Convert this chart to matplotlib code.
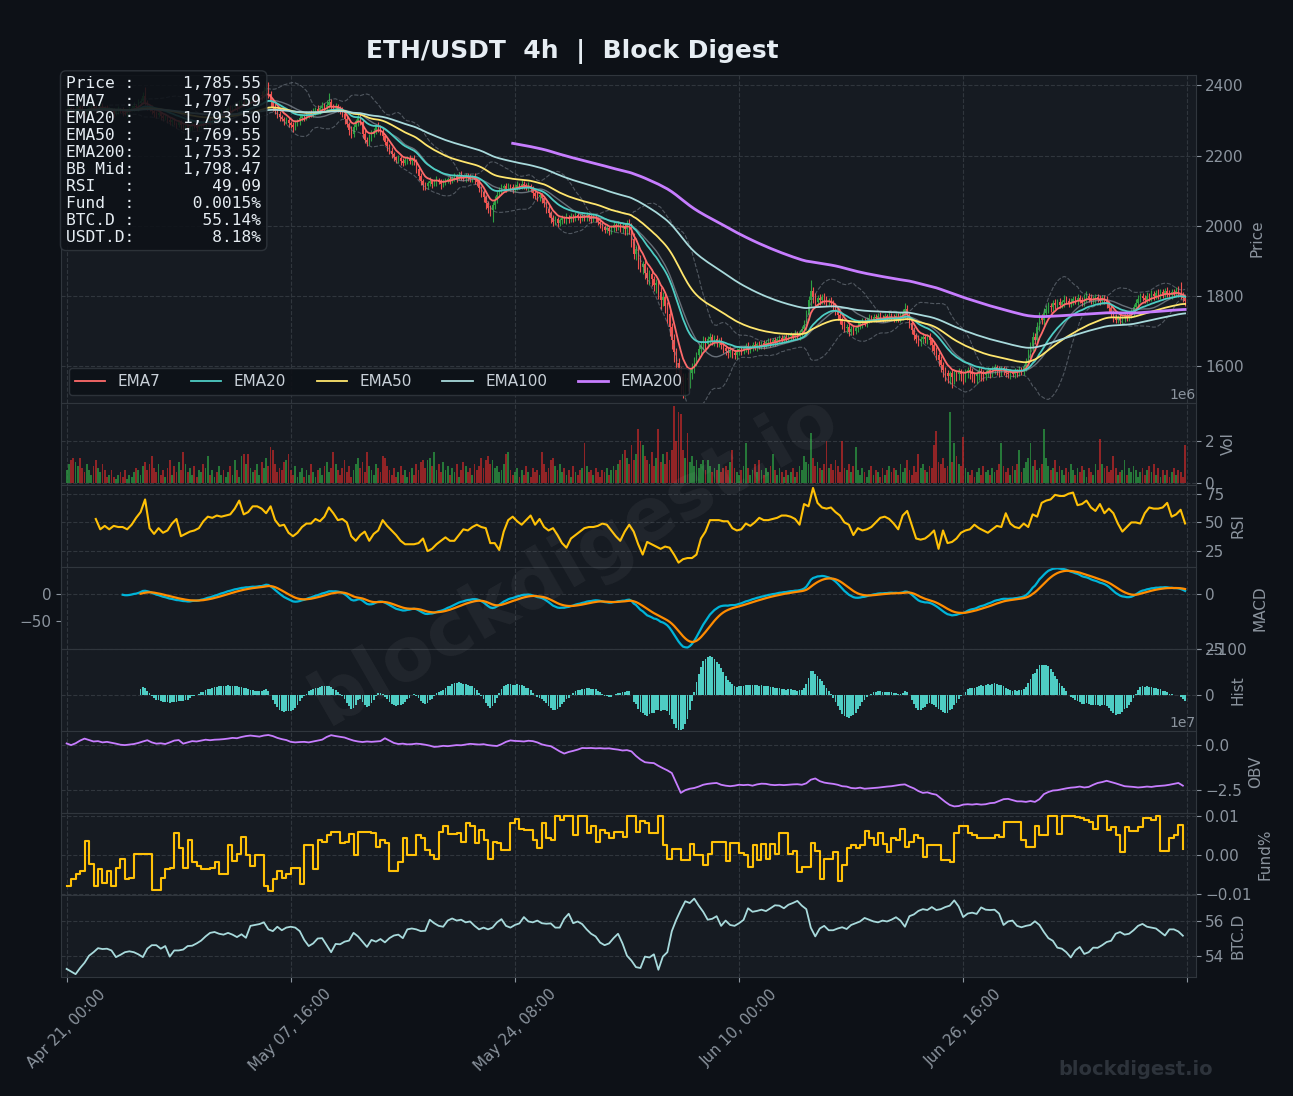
import numpy as np
import pandas as pd
import matplotlib
matplotlib.use("Agg")
import matplotlib.pyplot as plt

# ---- data: ETH/USDT 4h candles, Apr 21 -> Jul 13 ----
first_open = 2322
close = [
    2328, 2335, 2331, 2324, 2330, 2338, 2333, 2326, 2322, 2329,
    2334, 2341, 2337, 2330, 2335, 2343, 2339, 2333, 2328, 2332,
    2327, 2321, 2326, 2333, 2329, 2322, 2318, 2325, 2331, 2336,
    2342, 2338, 2349, 2356, 2368, 2352, 2340, 2334, 2326, 2320,
    2315, 2321, 2312, 2306, 2310, 2302, 2296, 2301, 2292, 2288,
    2294, 2286, 2280, 2285, 2277, 2282, 2290, 2284, 2279, 2287,
    2293, 2289, 2297, 2302, 2296, 2305, 2311, 2307, 2316, 2322,
    2318, 2327, 2334, 2329, 2337, 2343, 2339, 2346, 2351, 2347,
    2355, 2350, 2358, 2362, 2356, 2365, 2372, 2368, 2384, 2392,
    2375, 2352, 2338, 2326, 2318, 2310, 2305, 2298, 2302, 2293,
    2288, 2281, 2292, 2299, 2306, 2312, 2308, 2317, 2322, 2318,
    2326, 2331, 2327, 2335, 2342, 2337, 2345, 2352, 2340, 2336,
    2341, 2333, 2328, 2318, 2304, 2290, 2272, 2262, 2281, 2298,
    2310, 2296, 2262, 2245, 2238, 2252, 2261, 2270, 2284, 2279,
    2268, 2255, 2238, 2226, 2214, 2203, 2196, 2188, 2192, 2184,
    2179, 2186, 2192, 2185, 2190, 2183, 2162, 2141, 2128, 2116,
    2112, 2121, 2127, 2119, 2124, 2131, 2126, 2118, 2123, 2129,
    2134, 2128, 2136, 2141, 2137, 2144, 2139, 2135, 2142, 2138,
    2133, 2139, 2130, 2124, 2108, 2095, 2082, 2064, 2051, 2046,
    2058, 2074, 2089, 2101, 2108, 2112, 2106, 2114, 2109, 2104,
    2111, 2117, 2113, 2120, 2116, 2109, 2113, 2104, 2092, 2086,
    2081, 2087, 2078, 2064, 2049, 2036, 2021, 2012, 2018, 2009,
    2016, 2022, 2015, 2024, 2019, 2027, 2023, 2030, 2026, 2021,
    2028, 2024, 2031, 2025, 2019, 2026, 2021, 2012, 2004, 1996,
    1989, 1994, 1986, 1993, 2001, 1996, 2003, 1994, 1999, 1991,
    2004, 1997, 1962, 1921, 1934, 1902, 1884, 1891, 1866, 1851,
    1862, 1848, 1831, 1838, 1812, 1789, 1796, 1772, 1748, 1712,
    1676, 1642, 1610, 1589, 1571, 1556, 1568, 1561, 1582, 1596,
    1615, 1632, 1648, 1659, 1671, 1664, 1677, 1684, 1672, 1679,
    1668, 1673, 1661, 1652, 1645, 1637, 1646, 1639, 1632, 1641,
    1648, 1643, 1652, 1657, 1649, 1655, 1661, 1656, 1663, 1659,
    1666, 1661, 1668, 1672, 1667, 1674, 1669, 1677, 1681, 1675,
    1683, 1678, 1686, 1690, 1684, 1693, 1688, 1697, 1705, 1718,
    1745, 1788, 1815, 1796, 1784, 1795, 1788, 1798, 1791, 1785,
    1786, 1781, 1770, 1758, 1745, 1731, 1719, 1708, 1712, 1699,
    1706, 1701, 1709, 1716, 1722, 1729, 1724, 1733, 1739, 1735,
    1741, 1737, 1744, 1739, 1735, 1742, 1738, 1745, 1741, 1736,
    1743, 1736, 1744, 1751, 1764, 1745, 1724, 1703, 1688, 1679,
    1671, 1678, 1684, 1679, 1686, 1674, 1660, 1645, 1632, 1618,
    1603, 1590, 1581, 1573, 1580, 1569, 1582, 1577, 1586, 1579,
    1574, 1583, 1591, 1585, 1578, 1572, 1580, 1588, 1582, 1576,
    1584, 1590, 1585, 1592, 1598, 1591, 1587, 1594, 1589, 1581,
    1577, 1584, 1579, 1586, 1583, 1590, 1588, 1597, 1612, 1634,
    1658, 1684, 1676, 1712, 1738, 1731, 1752, 1764, 1772, 1768,
    1779, 1774, 1783, 1776, 1782, 1790, 1786, 1779, 1784, 1792,
    1787, 1795, 1788, 1781, 1793, 1801, 1794, 1786, 1791, 1797,
    1792, 1786, 1795, 1788, 1779, 1766, 1752, 1741, 1733, 1739,
    1731, 1737, 1744, 1738, 1746, 1754, 1769, 1781, 1792, 1799,
    1794, 1789, 1801, 1796, 1805, 1799, 1808, 1802, 1811, 1806,
    1814, 1808, 1803, 1811, 1806, 1815, 1809, 1801, 1794, 1785.55,
]
# volume, units of 100k
volume = [
    6, 9, 11, 12, 10, 8, 12, 7, 5, 9,
    6, 4, 8, 11, 7, 5, 9, 6, 3, 4,
    6, 3, 2, 4, 5, 3, 6, 2, 4, 3,
    5, 7, 6, 4, 8, 10, 6, 9, 13, 7,
    5, 9, 4, 6, 3, 7, 11, 4, 8, 5,
    10, 6, 15, 9, 5, 7, 4, 8, 3, 6,
    5, 9, 7, 13, 4, 6, 3, 5, 8, 4,
    6, 3, 5, 8, 4, 11, 6, 3, 13, 14,
    9, 14, 7, 5, 6, 9, 4, 10, 7, 12,
    8, 17, 16, 9, 5, 7, 6, 10, 11, 14,
    6, 4, 8, 3, 5, 7, 3, 6, 4, 9,
    5, 3, 6, 7, 4, 8, 10, 5, 7, 15,
    9, 6, 4, 7, 11, 5, 8, 3, 6, 9,
    12, 7, 10, 5, 15, 8, 6, 4, 9, 7,
    5, 13, 12, 8, 6, 4, 7, 3, 5, 8,
    4, 6, 3, 5, 7, 4, 9, 6, 10, 11,
    7, 11, 12, 8, 15, 6, 9, 5, 10, 6,
    8, 4, 7, 5, 9, 3, 6, 10, 8, 5,
    7, 4, 9, 6, 8, 12, 7, 11, 13, 9,
    11, 7, 8, 5, 6, 9, 14, 15, 6, 4,
    5, 7, 3, 6, 4, 8, 5, 3, 7, 5,
    6, 4, 15, 9, 5, 7, 11, 12, 8, 6,
    9, 5, 7, 4, 6, 3, 8, 5, 4, 6,
    7, 19, 8, 5, 6, 4, 7, 5, 3, 6,
    5, 7, 4, 6, 8, 6, 9, 11, 14, 16,
    12, 9, 18, 11, 14, 26, 20, 18, 13, 11,
    9, 15, 8, 12, 26, 10, 14, 9, 15, 11,
    16, 37, 20, 34, 33, 16, 12, 24, 10, 13,
    8, 11, 7, 9, 11, 6, 11, 8, 5, 7,
    6, 9, 5, 7, 8, 6, 10, 16, 7, 5,
    4, 6, 8, 19, 7, 4, 6, 9, 5, 11,
    6, 4, 7, 5, 8, 14, 6, 4, 7, 5,
    3, 6, 4, 5, 7, 3, 5, 8, 6, 13,
    10, 9, 24, 12, 8, 10, 7, 6, 9, 20,
    7, 9, 6, 11, 8, 5, 20, 7, 6, 9,
    5, 8, 17, 6, 4, 7, 5, 3, 6, 8,
    4, 6, 5, 3, 7, 4, 6, 8, 5, 7,
    6, 4, 9, 5, 7, 11, 6, 4, 8, 5,
    14, 7, 9, 6, 5, 8, 7, 18, 25, 10,
    9, 12, 7, 8, 34, 10, 19, 13, 9, 8,
    22, 7, 5, 4, 6, 3, 5, 7, 4, 8,
    5, 6, 4, 7, 5, 6, 9, 19, 8, 5,
    7, 4, 8, 6, 9, 16, 5, 7, 10, 12,
    19, 8, 11, 6, 7, 9, 26, 12, 8, 6,
    7, 11, 5, 8, 6, 4, 7, 5, 9, 6,
    4, 7, 5, 8, 6, 3, 7, 5, 4, 9,
    6, 21, 9, 7, 8, 5, 6, 13, 7, 4,
    5, 6, 11, 4, 7, 5, 8, 6, 3, 5,
    7, 4, 6, 8, 5, 9, 4, 7, 3, 6,
    4, 6, 3, 5, 7, 4, 6, 5, 3, 18,
]
wick_up = [
    6, 9, 4, 8, 12, 5, 7, 10, 3, 6, 8, 5, 11, 6, 4, 9, 7, 3, 10, 5,
    4, 7, 6, 9, 3, 8, 5, 6, 11, 7, 9, 5, 12, 8, 14, 27, 6, 4, 9, 5,
    7, 10, 4, 6, 8, 3, 9, 5, 7, 4, 6, 8, 5, 11, 4, 7, 9, 3, 6, 10,
    5, 7, 9, 4, 8, 6, 11, 5, 7, 9, 4, 8, 6, 10, 5, 9, 7, 12, 6, 8,
    10, 5, 9, 7, 11, 6, 8, 13, 14, 22, 18, 9, 7, 11, 5, 8, 6, 4, 9, 7,
    5, 8, 10, 6, 9, 4, 7, 11, 5, 8, 9, 6, 12, 7, 10, 8, 14, 26, 9, 6,
    8, 5, 7, 11, 6, 9, 4, 12, 10, 7, 12, 8, 6, 10, 7, 9, 11, 8, 6, 10,
    7, 9, 5, 8, 6, 10, 7, 4, 9, 6, 8, 10, 6, 9, 5, 12, 7, 6, 8, 5,
    9, 7, 11, 6, 8, 10, 5, 7, 9, 8, 6, 9, 7, 10, 5, 8, 11, 6, 9, 7,
    8, 6, 10, 7, 9, 5, 8, 6, 7, 9, 10, 12, 9, 8, 11, 7, 10, 8, 6, 9,
    7, 10, 6, 9, 8, 7, 11, 5, 8, 6, 9, 7, 5, 8, 6, 10, 7, 9, 11, 8,
    6, 9, 7, 12, 8, 10, 6, 9, 7, 8, 10, 7, 9, 6, 8, 11, 7, 5, 8, 6,
    7, 9, 6, 10, 12, 8, 11, 7, 9, 10, 12, 15, 10, 18, 11, 9, 14, 10, 12, 16,
    11, 14, 9, 12, 10, 13, 15, 9, 11, 14, 12, 15, 10, 13, 9, 11, 14, 16, 10, 13,
    11, 9, 13, 10, 14, 12, 9, 11, 8, 10, 9, 7, 10, 8, 6, 9, 11, 7, 8, 10,
    8, 10, 7, 9, 11, 6, 8, 10, 7, 9, 7, 9, 6, 8, 10, 7, 9, 6, 8, 7,
    6, 8, 7, 9, 6, 10, 8, 7, 11, 14, 16, 12, 31, 10, 13, 9, 11, 8, 12, 10,
    9, 11, 8, 10, 7, 12, 9, 11, 8, 10, 8, 10, 7, 9, 11, 8, 10, 7, 9, 8,
    7, 9, 8, 10, 6, 9, 8, 11, 7, 9, 8, 10, 9, 12, 16, 10, 8, 11, 9, 7,
    10, 8, 11, 9, 7, 10, 8, 12, 9, 10, 11, 9, 8, 10, 7, 12, 9, 8, 10, 7,
    8, 10, 7, 9, 11, 6, 8, 10, 7, 9, 7, 9, 6, 10, 8, 7, 9, 6, 8, 10,
    6, 8, 7, 9, 6, 10, 8, 11, 12, 14, 12, 15, 10, 13, 16, 11, 14, 10, 12, 9,
    10, 12, 9, 11, 8, 13, 10, 9, 11, 8, 9, 11, 8, 10, 12, 14, 9, 11, 8, 10,
    8, 10, 7, 9, 11, 8, 10, 7, 9, 8, 9, 7, 10, 8, 11, 9, 8, 10, 12, 9,
    10, 8, 11, 9, 12, 10, 9, 11, 8, 10, 9, 11, 8, 10, 9, 12, 14, 31, 12, 8,
]
wick_dn = [
    5, 8, 10, 4, 7, 6, 9, 5, 11, 6, 7, 4, 9, 6, 10, 5, 8, 6, 4, 9,
    6, 10, 5, 8, 7, 9, 4, 11, 6, 5, 8, 6, 10, 5, 9, 7, 11, 6, 8, 10,
    9, 5, 11, 7, 6, 10, 8, 12, 6, 9, 7, 10, 8, 5, 11, 6, 9, 7, 10, 5,
    8, 6, 10, 7, 9, 5, 8, 10, 6, 7, 9, 7, 5, 10, 6, 8, 11, 7, 9, 6,
    7, 10, 6, 9, 8, 11, 7, 9, 8, 10, 12, 14, 11, 9, 10, 12, 8, 11, 9, 13,
    10, 15, 9, 7, 11, 8, 10, 6, 9, 7, 8, 10, 7, 9, 6, 11, 8, 10, 12, 9,
    7, 9, 11, 8, 13, 10, 15, 12, 9, 8, 14, 10, 12, 9, 11, 8, 10, 7, 9, 11,
    10, 12, 9, 13, 11, 10, 12, 9, 8, 11, 9, 7, 10, 8, 11, 9, 13, 12, 11, 14,
    10, 8, 9, 11, 7, 10, 8, 12, 9, 7, 8, 10, 7, 9, 11, 8, 10, 7, 9, 10,
    9, 8, 11, 10, 12, 14, 13, 15, 14, 18, 35, 10, 9, 8, 11, 7, 10, 8, 9, 11,
    8, 10, 7, 9, 11, 8, 10, 9, 12, 10, 11, 9, 12, 10, 13, 11, 14, 12, 10, 13,
    9, 11, 8, 10, 12, 9, 11, 8, 10, 12, 8, 10, 9, 11, 12, 8, 10, 11, 9, 12,
    10, 9, 12, 8, 11, 10, 9, 12, 14, 16, 18, 20, 22, 15, 19, 24, 16, 21, 18, 17,
    20, 18, 16, 22, 19, 25, 18, 21, 24, 26, 28, 30, 34, 40, 51, 45, 40, 30, 22, 18,
    16, 14, 12, 15, 13, 16, 12, 14, 11, 13, 12, 14, 11, 15, 13, 12, 10, 14, 12, 11,
    10, 12, 9, 11, 13, 10, 12, 9, 11, 10, 9, 11, 8, 10, 12, 9, 11, 8, 10, 9,
    8, 10, 9, 11, 8, 10, 9, 12, 10, 11, 14, 12, 15, 16, 13, 12, 14, 11, 13, 12,
    11, 13, 10, 12, 14, 11, 13, 10, 12, 14, 10, 12, 9, 11, 10, 12, 9, 11, 10, 9,
    9, 10, 8, 11, 9, 10, 8, 10, 9, 11, 10, 9, 11, 12, 14, 13, 15, 12, 14, 13,
    12, 14, 11, 13, 15, 14, 16, 13, 15, 17, 18, 20, 22, 19, 24, 30, 18, 20, 17, 22,
    25, 19, 17, 20, 22, 18, 21, 19, 23, 18, 16, 14, 17, 15, 13, 16, 18, 14, 15, 12,
    11, 13, 10, 12, 14, 11, 13, 12, 10, 11, 12, 14, 11, 13, 12, 10, 14, 11, 13, 12,
    10, 12, 9, 11, 10, 12, 9, 11, 10, 8, 9, 11, 8, 10, 9, 11, 10, 8, 9, 11,
    10, 12, 9, 11, 13, 10, 12, 14, 11, 10, 12, 10, 11, 9, 10, 8, 11, 9, 10, 8,
    9, 10, 8, 11, 9, 10, 8, 9, 10, 11, 9, 10, 8, 11, 9, 10, 12, 10, 11, 14,
]
# RSI(14), every second candle starting at candle 13
rsi = [
    53, 44, 47, 44, 47, 46, 46, 44, 48, 54,
    59, 70, 45, 40, 45, 41, 43, 49, 53, 38,
    40, 42, 43, 45, 51, 55, 54, 56, 55, 56,
    57, 62, 69, 57, 59, 64, 64, 62, 58, 64,
    52, 47, 48, 41, 38, 41, 46, 49, 49, 53,
    51, 55, 63, 58, 52, 53, 50, 38, 34, 39,
    42, 34, 40, 43, 52, 47, 43, 39, 34, 31,
    31, 31, 32, 36, 25, 27, 31, 34, 37, 34,
    34, 39, 44, 43, 46, 48, 46, 45, 32, 32,
    26, 42, 52, 55, 51, 48, 52, 56, 48, 53,
    46, 43, 45, 39, 32, 28, 36, 39, 42, 45,
    46, 46, 47, 49, 48, 43, 38, 34, 42, 48,
    42, 31, 22, 33, 31, 29, 27, 29, 28, 22,
    15, 18, 19, 19, 22, 36, 42, 52, 52, 52,
    51, 51, 45, 43, 44, 49, 47, 50, 54, 52,
    52, 53, 54, 56, 56, 55, 53, 48, 66, 64,
    80, 67, 63, 62, 63, 59, 56, 50, 48, 39,
    45, 43, 44, 46, 50, 54, 55, 53, 49, 44,
    56, 60, 48, 36, 35, 36, 39, 43, 27, 43,
    32, 33, 36, 41, 43, 44, 48, 45, 43, 41,
    44, 47, 46, 58, 49, 46, 45, 49, 46, 57,
    55, 67, 69, 70, 74, 73, 73, 75, 76, 65,
    66, 69, 63, 60, 66, 58, 62, 58, 49, 42,
    46, 50, 50, 49, 58, 63, 62, 62, 63, 67,
    55, 57, 61, 49.09,
]
# OBV in 1e7, every second candle
obv = [
    0.09, 0.0, 0.1, 0.25, 0.36, 0.28, 0.2, 0.22, 0.15, 0.18,
    0.13, 0.08, 0.02, 0.0, 0.03, 0.06, 0.12, 0.2, 0.27, 0.15,
    0.08, 0.1, 0.06, 0.15, 0.25, 0.28, 0.08, 0.15, 0.22, 0.2,
    0.25, 0.3, 0.27, 0.3, 0.31, 0.33, 0.36, 0.4, 0.38, 0.45,
    0.5, 0.53, 0.5, 0.47, 0.53, 0.56, 0.5, 0.4, 0.33, 0.28,
    0.18, 0.15, 0.17, 0.18, 0.15, 0.2, 0.25, 0.3, 0.45, 0.55,
    0.5, 0.46, 0.42, 0.33, 0.25, 0.2, 0.17, 0.2, 0.18, 0.2,
    0.22, 0.38, 0.25, 0.12, 0.06, 0.08, 0.04, 0.05, 0.08, 0.06,
    0.02, -0.03, -0.1, -0.08, -0.04, -0.06, -0.03, 0.0, -0.01, 0.03,
    0.07, 0.05, 0.03, 0.05, 0.0, -0.03, -0.05, 0.05, 0.18, 0.26,
    0.23, 0.22, 0.2, 0.24, 0.22, 0.15, 0.04, -0.02, -0.06, -0.2,
    -0.35, -0.47, -0.38, -0.32, -0.25, -0.16, -0.17, -0.16, -0.18, -0.17,
    -0.19, -0.18, -0.22, -0.25, -0.3, -0.28, -0.35, -0.6, -0.8, -0.95,
    -0.98, -1.0, -1.15, -1.28, -1.4, -1.55, -2.1, -2.65, -2.5, -2.42,
    -2.38, -2.3, -2.2, -2.15, -2.12, -2.1, -2.2, -2.25, -2.28, -2.25,
    -2.2, -2.22, -2.2, -2.25, -2.18, -2.14, -2.15, -2.2, -2.22, -2.2,
    -2.22, -2.2, -2.18, -2.17, -2.2, -2.12, -1.92, -1.85, -2.0, -2.08,
    -2.12, -2.15, -2.2, -2.28, -2.3, -2.38, -2.4, -2.36, -2.42, -2.4,
    -2.38, -2.36, -2.33, -2.3, -2.28, -2.24, -2.2, -2.18, -2.3, -2.4,
    -2.55, -2.65, -2.62, -2.7, -2.75, -2.95, -3.15, -3.32, -3.4, -3.38,
    -3.3, -3.28, -3.3, -3.27, -3.3, -3.28, -3.22, -3.2, -3.1, -3.0,
    -2.98, -3.05, -3.12, -3.12, -3.15, -3.1, -3.15, -3.0, -2.72, -2.6,
    -2.52, -2.5, -2.45, -2.4, -2.36, -2.34, -2.3, -2.35, -2.32, -2.2,
    -2.1, -2.05, -1.98, -2.05, -2.12, -2.2, -2.28, -2.3, -2.32, -2.35,
    -2.33, -2.3, -2.32, -2.28, -2.26, -2.24, -2.2, -2.15, -2.1, -2.25,
]
# funding rate %, one value per 8h (every second candle)
fund = [
    -0.008, -0.0062, -0.0049, -0.004, 0.0037, -0.0023, -0.008, -0.0036, -0.0071, -0.004,
    -0.008, -0.0032, -0.001, -0.0062, -0.0058, 0.0004, 0.0004, 0.0004, 0.0004, -0.0089,
    -0.0089, -0.0058, -0.0036, -0.0032, 0.0056, 0.0017, -0.0032, 0.0039, -0.0018, -0.0027,
    -0.0036, -0.0036, -0.0032, -0.0018, -0.0049, -0.0049, 0.0025, -0.0014, 0.0004, 0.0047,
    -0.0001, -0.0027, 0.0, 0.0, -0.008, -0.0093, -0.0062, -0.004, -0.0058, -0.0049,
    -0.0032, -0.0032, -0.0075, 0.0025, 0.0025, -0.0036, 0.0039, 0.0034, 0.0052, 0.006,
    0.006, 0.003, 0.0034, 0.0054, 0.0, 0.006, 0.006, 0.006, 0.0056, 0.0021,
    0.0039, 0.003, -0.004, -0.004, -0.0018, 0.0043, 0.0, 0.0, 0.0052, 0.0043,
    0.0012, 0.0, -0.001, 0.006, 0.0075, 0.0054, 0.0054, 0.0056, 0.0034, 0.0082,
    0.0074, 0.003, 0.0065, 0.0039, -0.001, 0.0034, 0.003, 0.0012, 0.0012, 0.0082,
    0.0093, 0.0067, 0.0065, 0.0065, 0.0039, 0.0017, 0.0082, 0.0043, 0.0039, 0.01,
    0.0091, 0.01, 0.01, 0.0052, 0.01, 0.01, 0.0056, 0.0074, 0.0034, 0.0065,
    0.0056, 0.0043, 0.006, 0.006, 0.0047, 0.01, 0.01, 0.006, 0.0087, 0.0082,
    0.0056, 0.0056, 0.01, 0.0026, -0.0009, 0.0015, 0.0015, -0.0013, -0.0013, 0.0028,
    0.0, 0.0, -0.0026, 0.0004, 0.0034, 0.0034, 0.0034, -0.0015, 0.0032, 0.0032,
    0.0006, 0.0, -0.003, 0.0026, -0.0013, 0.0028, -0.0009, 0.0028, 0.0004, 0.0056,
    0.0056, 0.0004, 0.0011, -0.0043, -0.003, -0.003, 0.003, 0.0011, -0.006, -0.0009,
    -0.0009, 0.0009, -0.0066, -0.0026, 0.0017, 0.0026, 0.0017, 0.0026, 0.0062, 0.0043,
    0.0026, 0.0057, 0.0028, 0.0009, 0.0043, 0.0038, 0.0068, 0.0021, 0.0034, 0.0051,
    0.0043, -0.0004, 0.0026, 0.0026, 0.0026, -0.0013, -0.0013, -0.0017, 0.0056, 0.0074,
    0.0074, 0.0056, 0.0051, 0.0043, 0.0043, 0.0043, 0.0045, 0.0051, 0.0047, 0.0085,
    0.0085, 0.0085, 0.0085, 0.0038, 0.0021, 0.0021, 0.0074, 0.0051, 0.0051, 0.01,
    0.01, 0.0054, 0.01, 0.01, 0.01, 0.0097, 0.0094, 0.009, 0.0085, 0.0068,
    0.01, 0.01, 0.0064, 0.0073, 0.0051, 0.0009, 0.0073, 0.0062, 0.0062, 0.0073,
    0.0094, 0.0094, 0.009, 0.01, 0.0011, 0.0011, 0.0043, 0.0051, 0.0077, 0.0015,
]
# BTC dominance %, every second candle
btc_d = [
    53.25, 53.1, 52.95, 53.3, 53.6, 54.0, 54.2, 54.43, 54.38, 54.4,
    54.3, 53.92, 54.05, 54.2, 54.25, 54.2, 54.08, 53.92, 54.4, 54.6,
    54.6, 54.4, 54.55, 53.95, 54.3, 54.3, 54.35, 54.55, 54.57, 54.7,
    54.86, 55.1, 55.3, 55.35, 55.25, 55.2, 55.3, 55.2, 55.06, 55.22,
    55.02, 55.7, 55.75, 55.8, 55.9, 55.5, 55.4, 55.65, 55.45, 55.6,
    55.65, 55.6, 55.4, 54.9, 54.55, 54.7, 54.98, 55.0, 54.6, 54.2,
    54.67, 54.65, 54.8, 54.86, 55.3, 55.1, 54.8, 54.5, 54.9, 54.8,
    54.95, 54.76, 55.0, 55.15, 55.2, 55.0, 55.5, 55.55, 55.5, 55.4,
    55.42, 56.05, 55.85, 55.7, 55.65, 56.0, 56.12, 56.0, 56.05, 55.9,
    55.95, 55.7, 55.5, 55.6, 55.5, 55.6, 55.9, 56.08, 55.7, 55.6,
    55.75, 55.84, 56.2, 55.95, 55.9, 56.0, 55.85, 55.82, 55.84, 55.6,
    55.6, 56.1, 56.39, 55.85, 55.95, 55.8, 55.5, 55.25, 55.1, 54.75,
    54.6, 54.7, 55.0, 55.25, 54.7, 54.0, 53.72, 53.35, 53.3, 53.95,
    53.9, 54.08, 53.2, 53.95, 54.2, 55.4, 56.05, 56.6, 57.1, 57.0,
    57.25, 56.85, 56.5, 56.05, 56.1, 56.25, 55.7, 56.0, 55.75, 55.7,
    55.85, 56.04, 56.7, 56.5, 56.55, 56.62, 56.54, 56.7, 56.87, 56.85,
    56.7, 56.9, 57.0, 57.12, 56.85, 56.65, 55.6, 55.1, 55.55, 55.7,
    55.45, 55.45, 55.55, 55.62, 55.52, 55.75, 55.85, 55.95, 56.15, 56.05,
    55.95, 55.9, 56.0, 55.95, 56.05, 56.19, 56.0, 55.65, 56.25, 56.35,
    56.55, 56.65, 56.6, 56.77, 56.6, 56.65, 56.77, 56.85, 57.15, 56.8,
    56.2, 56.4, 56.45, 56.38, 56.75, 56.62, 56.6, 56.62, 56.4, 55.75,
    55.95, 56.0, 55.7, 55.62, 55.7, 55.75, 55.96, 55.75, 55.35, 55.0,
    54.85, 54.46, 54.4, 54.2, 53.9, 54.3, 54.5, 54.1, 54.2, 54.46,
    54.45, 54.6, 54.78, 54.85, 55.25, 55.35, 55.2, 55.25, 55.45, 55.7,
    55.81, 55.65, 55.6, 55.55, 55.35, 55.15, 55.5, 55.5, 55.38, 55.14,
]

tick_labels = ["Apr 21, 00:00", "May 07, 16:00", "May 24, 08:00",
               "Jun 10, 00:00", "Jun 26, 16:00", ""]
info_names = ["Price", "EMA7", "EMA20", "EMA50", "EMA200", "BB Mid",
              "RSI", "Fund", "BTC.D", "USDT.D"]
info_values = ["1,785.55", "1,797.59", "1,793.50", "1,769.55", "1,753.52",
               "1,798.47", "49.09", "0.0015%", "55.14%", "8.18%"]

# ---- colours ----
BG = "#0d1117"
PANEL = "#161b22"
EDGE = "#30363d"
TXT = "#8b949e"
UP = "#2ea043"
DOWN = "#f0524f"
ema_colors = {7: "#ff6b6b", 20: "#4ecdc4", 50: "#ffe66d", 100: "#a8dadc", 200: "#c77dff"}

# ---- indicators ----
c = pd.Series(close, dtype=float)
o = c.shift(1).fillna(first_open)
hi = np.maximum(o, c) + np.array(wick_up)
lo = np.minimum(o, c) - np.array(wick_dn)
x = np.arange(len(c))
up = (c >= o).values

emas = {n: c.ewm(span=n, adjust=False).mean() for n in (7, 20, 50, 100)}
emas[200] = c.ewm(span=200, adjust=False, min_periods=200).mean()
bb_mid = c.rolling(20).mean()
bb_sd = c.rolling(20).std()
macd = c.ewm(span=12, adjust=False).mean() - c.ewm(span=26, adjust=False, min_periods=26).mean()
signal = macd.ewm(span=9, adjust=False, min_periods=9).mean()
hist = macd - signal

vol = np.array(volume) * 1e5
x2 = np.arange(0, len(c), 2)
x_rsi = np.arange(13, len(c), 2)

# ---- figure ----
fig = plt.figure(figsize=(12.93, 10.96), dpi=100, facecolor=BG)
gs = fig.add_gridspec(8, 1, height_ratios=[4, 1, 1, 1, 1, 1, 1, 1], hspace=0,
                      left=0.0472, right=0.9247, top=0.932, bottom=0.1086)
axes = []
for i in range(8):
    ax = fig.add_subplot(gs[i], sharex=axes[0] if axes else None)
    ax.set_facecolor(PANEL)
    ax.grid(True, color=EDGE, linestyle="--", linewidth=0.8)
    ax.set_axisbelow(True)
    ax.yaxis.tick_right()
    ax.yaxis.set_label_position("right")
    ax.tick_params(colors=TXT, labelsize=11)
    for s in ax.spines.values():
        s.set_color(EDGE)
    if i < 7:
        ax.tick_params(axis="x", length=0, labelbottom=False)
    axes.append(ax)
ax_p, ax_v, ax_r, ax_m, ax_h, ax_o, ax_f, ax_b = axes

# price
cols = np.where(up, UP, DOWN)
ax_p.vlines(x, lo, hi, colors=cols, linewidth=0.8, zorder=2)
ax_p.bar(x, np.maximum(np.abs(c - o), 0.8), bottom=np.minimum(o, c), width=0.6,
         color=cols, zorder=2)
ax_p.plot(x, bb_mid + 2 * bb_sd, color=TXT, lw=0.8, ls="--", alpha=0.5, zorder=3)
ax_p.plot(x, bb_mid - 2 * bb_sd, color=TXT, lw=0.8, ls="--", alpha=0.5, zorder=3)
ax_p.plot(x, bb_mid, color=TXT, lw=1.0, alpha=0.7, zorder=3)
for n in (7, 20, 50, 100, 200):
    ax_p.plot(x, emas[n], color=ema_colors[n], lw=2.0 if n == 200 else 1.3,
              label=f"EMA{n}", zorder=4)
ax_p.set_ylim(1496.6, 2430.5)
ax_p.set_ylabel("Price", color=TXT, fontsize=11)
leg = ax_p.legend(loc="lower left", ncol=5, fontsize=11, facecolor=BG,
                  edgecolor=EDGE, framealpha=0.9, labelcolor="#c9d1d9")
info = "\n".join(f"{n:<6}:{v:>13}" for n, v in zip(info_names, info_values))
ax_p.text(0.0045, 0.994, info, transform=ax_p.transAxes, va="top", ha="left",
          family="DejaVu Sans Mono", fontsize=11.7, linespacing=1.17,
          color="#e6edf3", zorder=10,
          bbox=dict(boxstyle="round,pad=0.35", facecolor=BG, edgecolor=EDGE, alpha=0.88))

# volume
vcols = np.where(up, UP, "#c62828")
ax_v.bar(x, vol, width=0.8, color=vcols, alpha=0.7)
ax_v.set_ylim(-0.09e6, 3.85e6)
ax_v.set_yticks([0, 2e6])
ax_v.set_ylabel("Vol", color=TXT, fontsize=11)

# rsi
ax_r.plot(x_rsi, rsi, color="#ffc107", lw=1.5)
ax_r.set_ylim(11.4, 82.8)
ax_r.set_yticks([25, 50, 75])
ax_r.set_ylabel("RSI", color=TXT, fontsize=11)

# macd
ax_m.plot(x, macd, color="#00b4d8", lw=1.6)
ax_m.plot(x, signal, color="#ff8c00", lw=1.6)
ax_m.set_ylim(-100.5, 50.5)
ax_m.set_yticks([-100, 0])
ax_m.set_ylabel("MACD", color=TXT, fontsize=11)
sec = ax_m.secondary_yaxis("left")
sec.set_yticks([0, -50])
sec.tick_params(colors=TXT, labelsize=11)
sec.spines["left"].set_color(EDGE)

# histogram
ax_h.bar(x, hist, width=0.8, color="#4ecdc4")
ax_h.set_ylim(-20, 25.3)
ax_h.set_yticks([0, 25])
ax_h.set_ylabel("Hist", color=TXT, fontsize=11)

# obv
ax_o.plot(x2, np.array(obv) * 1e7, color="#c77dff", lw=1.3)
ax_o.set_ylim(-3.76e7, 0.79e7)
ax_o.set_yticks([-2.5e7, 0])
ax_o.set_ylabel("OBV", color=TXT, fontsize=11)

# funding
ax_f.plot(x2, fund, color="#ffc107", lw=1.5, drawstyle="steps-post")
ax_f.set_ylim(-0.0102, 0.0108)
ax_f.set_yticks([-0.01, 0, 0.01])
ax_f.set_ylabel("Fund%", color=TXT, fontsize=11)

# btc dominance
ax_b.plot(x2, btc_d, color="#a8dadc", lw=1.3)
ax_b.set_ylim(52.79, 57.46)
ax_b.set_yticks([54, 56])
ax_b.set_ylabel("BTC.D", color=TXT, fontsize=11)

ax_b.set_xlim(-2.5, 503.7)
ax_b.set_xticks(np.arange(0, 501, 100))
ax_b.set_xticklabels(tick_labels, rotation=45, color=TXT, fontsize=11)

fig.text(0.4425, 0.9526, "ETH/USDT  4h  |  Block Digest", ha="center", va="center",
         fontsize=18, fontweight="bold", color="#e6edf3")
fig.text(0.445, 0.49, "blockdigest.io", ha="center", va="center", rotation=30,
         fontsize=54, fontweight="bold", color="white", alpha=0.05, zorder=20)
fig.text(0.878, 0.024, "blockdigest.io", ha="center", va="center",
         fontsize=14, fontweight="bold", color="#2d333b")

fig.savefig("out.png", dpi=100, facecolor=BG)
